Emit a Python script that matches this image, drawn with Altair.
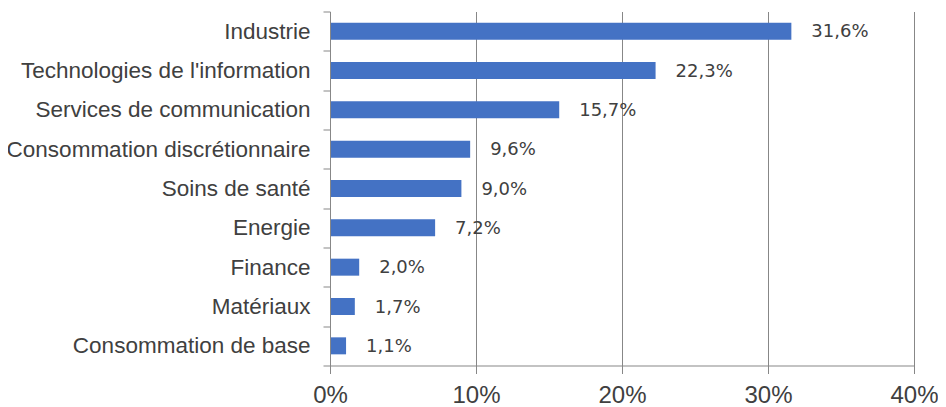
import altair as alt
import pandas as pd

categories = [
    "Industrie",
    "Technologies de l'information",
    "Services de communication",
    "Consommation discrétionnaire",
    "Soins de santé",
    "Energie",
    "Finance",
    "Matériaux",
    "Consommation de base",
]
values = [31.6, 22.3, 15.7, 9.6, 9.0, 7.2, 2.0, 1.7, 1.1]
x_ticks = [0, 0.1, 0.2, 0.3, 0.4]

df = pd.DataFrame({
    "cat": categories,
    "val": [v / 100 for v in values],
    "lab": [f"{v:.1f}".replace(".", ",") + "%" for v in values],
})

GRAY = "#878787"
TXT = "#404040"

y_enc = alt.Y(
    "cat:N", sort=categories, title=None,
    scale=alt.Scale(paddingInner=0, paddingOuter=0),
    axis=alt.Axis(
        labelFont="Liberation Sans", labelFontSize=22.5, labelColor=TXT,
        labelPadding=13, ticks=True, tickSize=7, tickColor=GRAY,
        tickOpacity=1, domain=True, domainColor=GRAY, domainOpacity=1,
        domainWidth=1, tickWidth=1, tickBand="extent", grid=False,
        labelLimit=400, zindex=1,
    ),
)
x_enc = alt.X(
    "val:Q", title=None,
    scale=alt.Scale(domain=[0, 0.4], nice=False),
    axis=alt.Axis(
        values=x_ticks, format=".0%", labelFont="Liberation Sans",
        labelFontSize=24, labelColor=TXT, labelPadding=10, tickSize=8,
        tickColor=GRAY, domainColor=GRAY, gridColor=GRAY, grid=True,
        gridOpacity=1, labelFlush=False,
    ),
)

bars = alt.Chart(df).mark_bar(color="#4472C4", height=17).encode(x=x_enc, y=y_enc)
labels = alt.Chart(df).mark_text(
    align="left", baseline="middle", dx=20, dy=1,
    font="DejaVu Sans", fontSize=18, color=TXT,
).encode(
    x="val:Q",
    y=alt.Y("cat:N", sort=categories),
    text="lab:N",
)

chart = (bars + labels).properties(
    width=584, height=354,
    background="white",
    autosize=alt.AutoSizeParams(type="none"),
    padding={"left": 322, "top": 3.5, "right": 24, "bottom": 50},
).configure_view(stroke=None)

chart.save("out.html", embed_options={"renderer": "svg", "actions": False})
